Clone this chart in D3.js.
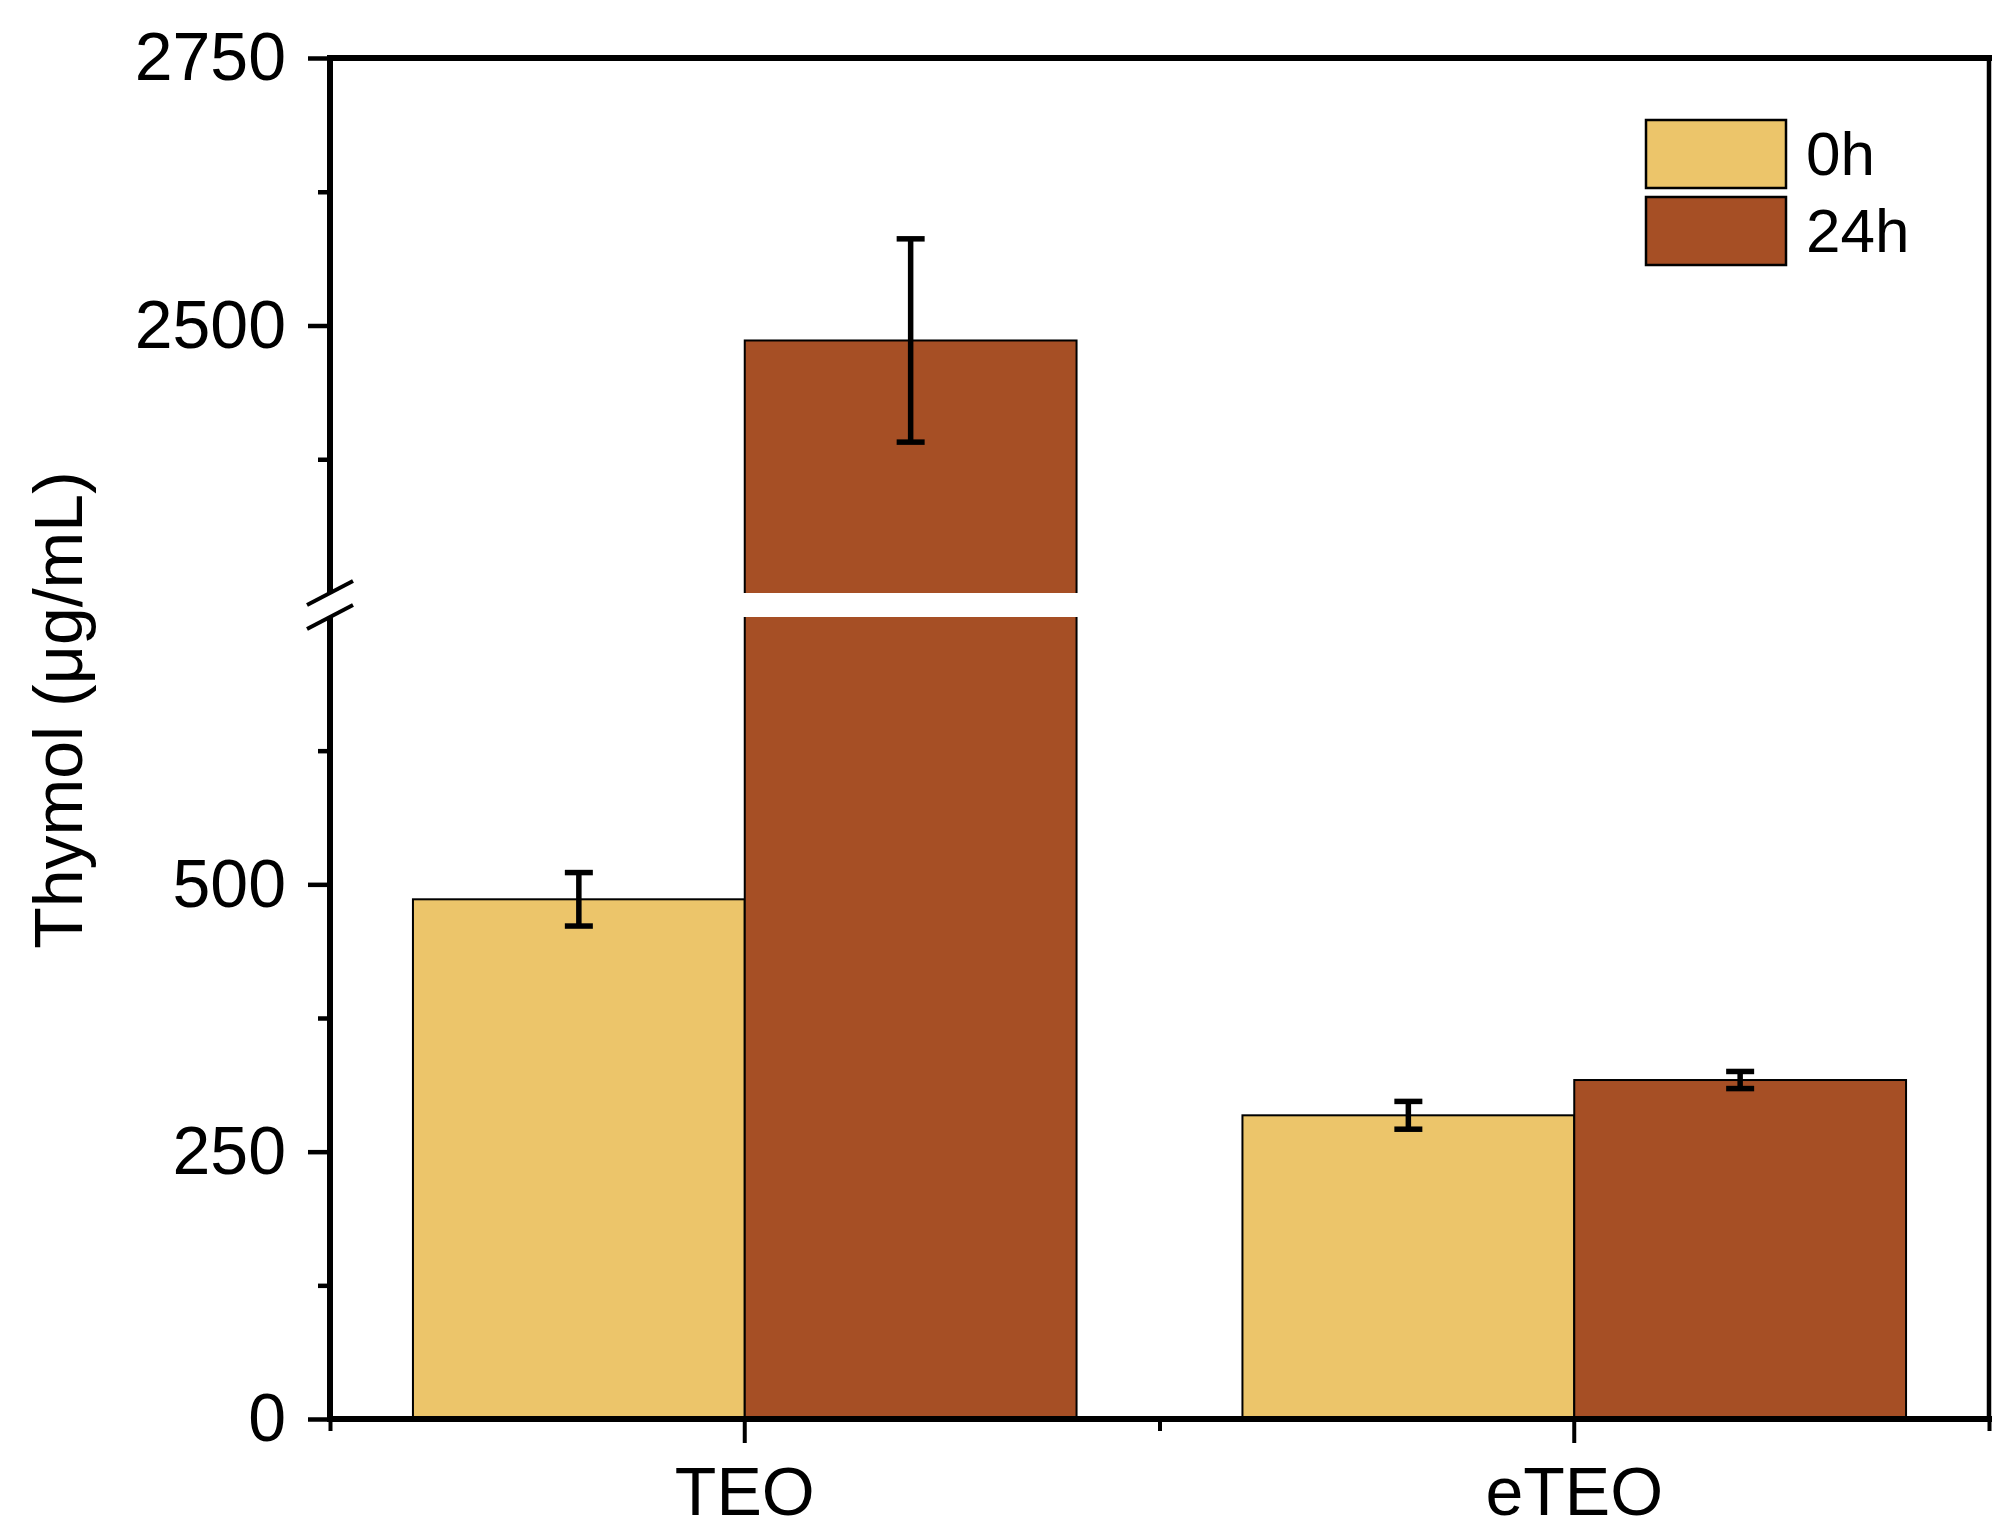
<!DOCTYPE html>
<html>
<head>
<meta charset="utf-8">
<script src="https://cdn.jsdelivr.net/npm/d3@7"></script>
<style>
  body { margin: 0; background: #fff; }
</style>
</head>
<body>
<div id="chart-region"></div>
<script>
const groups = ["TEO", "eTEO"];
const series = ["0h", "24h"];
const seriesColors = ["#ECC56A", "#A64F25"];
// [group][series]
const meanValues = [[486, 2486], [284, 317]];
const errValues = [[25, 95], [13, 8]];
const lowMajorTicks = [0, 250, 500];
const lowMinorTicks = [125, 375, 625];
const highMajorTicks = [2500, 2750];
const highMinorTicks = [2375, 2625];

const WIDTH = 2014, HEIGHT = 1539;
const PLOT = {LEFT: 330, RIGHT: 1989, TOP: 58, BOTTOM: 1419};
const BREAK = {LOW: 750, HIGH: 2250, MAX: 2750, Y_LOW: 617, Y_HIGH: 593};
const FONT = "'Liberation Sans', Arial, sans-serif";
const AXIS_W = 6;

const svg = d3.select("#chart-region").append("svg")
    .attr("width", WIDTH)
    .attr("height", HEIGHT)
    .style("display", "block")
    .style("background", "#fff");

// broken y axis: two linear pieces
const yLow = d3.scaleLinear().domain([0, BREAK.LOW]).range([PLOT.BOTTOM, BREAK.Y_LOW]);
const yHigh = d3.scaleLinear().domain([BREAK.HIGH, BREAK.MAX]).range([BREAK.Y_HIGH, PLOT.TOP]);
const y = v => v <= BREAK.LOW ? yLow(v) : yHigh(v);

const x0 = d3.scaleBand().domain(groups).range([PLOT.LEFT, PLOT.RIGHT]);
const bw = x0.bandwidth();
const x1 = d3.scaleBand().domain(series).range([0.1 * bw, 0.9 * bw]);
const xIdx = d3.scaleLinear().domain([-0.5, groups.length - 0.5]).range([PLOT.LEFT, PLOT.RIGHT]);
const color = d3.scaleOrdinal().domain(series).range(seriesColors);

const rows = groups.flatMap((g, i) => series.map((s, j) => ({g, s, v: meanValues[i][j], e: errValues[i][j]})));

// bars
const bars = svg.append("g");
bars.selectAll("rect")
    .data(rows)
    .enter()
    .append("rect")
    .attr("x", d => x0(d.g) + x1(d.s))
    .attr("y", d => y(d.v))
    .attr("width", x1.bandwidth())
    .attr("height", d => PLOT.BOTTOM - y(d.v))
    .attr("fill", d => color(d.s))
    .attr("stroke", "#000")
    .attr("stroke-width", 2);

// white gap on bars that cross the break
bars.selectAll("rect.gap")
    .data(rows.filter(d => d.v > BREAK.HIGH))
    .enter()
    .append("rect")
    .attr("class", "gap")
    .attr("x", d => x0(d.g) + x1(d.s) - 2)
    .attr("y", BREAK.Y_HIGH)
    .attr("width", x1.bandwidth() + 4)
    .attr("height", BREAK.Y_LOW - BREAK.Y_HIGH)
    .attr("fill", "#fff");

// error bars
const cx = d => x0(d.g) + x1(d.s) + x1.bandwidth() / 2;
const errs = svg.append("g").attr("stroke", "#000").attr("stroke-width", 5.5);
errs.selectAll("line.v")
    .data(rows)
    .enter()
    .append("line")
    .attr("x1", cx).attr("x2", cx)
    .attr("y1", d => y(d.v - d.e))
    .attr("y2", d => y(d.v + d.e));
[-1, 1].forEach(sign => {
    errs.selectAll("line.cap" + (sign > 0 ? "t" : "b"))
        .data(rows)
        .enter()
        .append("line")
        .attr("x1", d => cx(d) - 14)
        .attr("x2", d => cx(d) + 14)
        .attr("y1", d => y(d.v + sign * d.e))
        .attr("y2", d => y(d.v + sign * d.e));
});

// y axis ticks
function yTicks(scale, values, size, labels) {
    const g = svg.append("g")
        .attr("transform", `translate(${PLOT.LEFT}, 0)`)
        .call(d3.axisLeft(scale).tickValues(values).tickSize(size).tickPadding(22)
            .tickFormat(labels ? d3.format("d") : ""));
    g.select(".domain").remove();
    g.selectAll("line").attr("stroke", "#000").attr("stroke-width", 4.5);
    g.selectAll("text").attr("font-family", FONT).attr("font-size", "68px").attr("fill", "#000");
}
yTicks(yLow, lowMajorTicks, 22, true);
yTicks(yLow, lowMinorTicks, 12, false);
yTicks(yHigh, highMajorTicks, 22, true);
yTicks(yHigh, highMinorTicks, 12, false);

// x axis ticks
const xMajor = svg.append("g")
    .attr("transform", `translate(0, ${PLOT.BOTTOM})`)
    .call(d3.axisBottom(x0).tickSize(24).tickPadding(24));
xMajor.select(".domain").remove();
xMajor.selectAll("line").attr("stroke", "#000").attr("stroke-width", 4);
xMajor.selectAll("text").attr("font-family", FONT).attr("font-size", "68px").attr("fill", "#000");

const xMinor = svg.append("g")
    .attr("transform", `translate(0, ${PLOT.BOTTOM})`)
    .call(d3.axisBottom(xIdx).tickValues(d3.range(-0.5, groups.length, 1)).tickSize(12).tickFormat(""));
xMinor.select(".domain").remove();
xMinor.selectAll("line").attr("stroke", "#000").attr("stroke-width", 4);

// frame, with the left side broken
const frame = svg.append("g").attr("stroke", "#000").attr("stroke-width", AXIS_W).attr("stroke-linecap", "square");
frame.append("line").attr("x1", PLOT.LEFT).attr("x2", PLOT.RIGHT).attr("y1", PLOT.TOP).attr("y2", PLOT.TOP);
frame.append("line").attr("x1", PLOT.LEFT).attr("x2", PLOT.RIGHT).attr("y1", PLOT.BOTTOM).attr("y2", PLOT.BOTTOM);
frame.append("line").attr("x1", PLOT.RIGHT).attr("x2", PLOT.RIGHT).attr("y1", PLOT.TOP).attr("y2", PLOT.BOTTOM)
    .attr("stroke-width", 4.5);
frame.append("line").attr("x1", PLOT.LEFT).attr("x2", PLOT.LEFT).attr("y1", PLOT.TOP).attr("y2", BREAK.Y_HIGH)
    .attr("stroke-linecap", "butt");
frame.append("line").attr("x1", PLOT.LEFT).attr("x2", PLOT.LEFT).attr("y1", BREAK.Y_LOW).attr("y2", PLOT.BOTTOM)
    .attr("stroke-linecap", "butt");

// break marks
[BREAK.Y_HIGH, BREAK.Y_LOW].forEach(yy => {
    svg.append("line")
        .attr("x1", PLOT.LEFT - 23).attr("y1", yy + 12)
        .attr("x2", PLOT.LEFT + 23).attr("y2", yy - 12)
        .attr("stroke", "#000").attr("stroke-width", 4);
});

// y label
svg.append("text")
    .attr("transform", `translate(82, 710) rotate(-90)`)
    .attr("text-anchor", "middle")
    .attr("font-family", FONT)
    .attr("font-size", "68px")
    .text("Thymol (μg/mL)");

// legend
const legend = svg.append("g").attr("transform", "translate(1646, 120)");
const item = legend.selectAll("g")
    .data(series)
    .enter()
    .append("g")
    .attr("transform", (d, i) => `translate(0, ${i * 77})`);
item.append("rect")
    .attr("width", 140)
    .attr("height", 68)
    .attr("fill", d => color(d))
    .attr("stroke", "#000")
    .attr("stroke-width", 2.5);
item.append("text")
    .attr("x", 160)
    .attr("y", 55)
    .attr("font-family", FONT)
    .attr("font-size", "62px")
    .text(d => d);
</script>
</body>
</html>
